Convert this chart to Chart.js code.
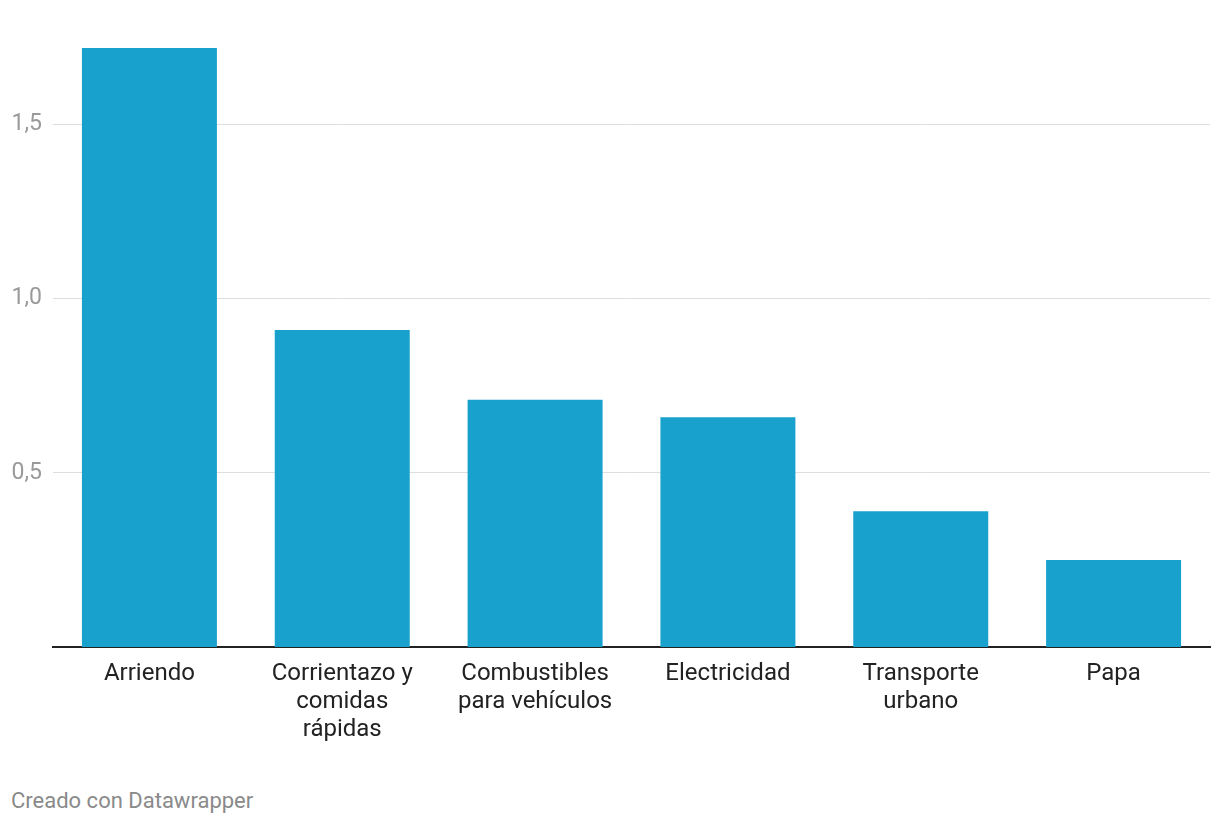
<!DOCTYPE html>
<html>
<head>
<meta charset="utf-8">
<script src="https://cdn.jsdelivr.net/npm/chart.js@4"></script>
<style>
  html, body { margin: 0; padding: 0; background: #fff; }
  #wrap { position: relative; width: 1220px; height: 824px; }
  #box { position: absolute; left: 0; top: 0; width: 1220px; height: 760px; }
  #footer {
    position: absolute; left: 11px; top: 788px;
    font-family: Roboto, sans-serif; font-size: 22px; color: #8a8a8a;
  }
</style>
</head>
<body>
<div id="wrap">
  <div id="box"><canvas id="chart"></canvas></div>
  <div id="footer">Creado con Datawrapper</div>
</div>
<script>
  // datos
  const categories = [
    ['Arriendo'],
    ['Corrientazo y', 'comidas', 'rápidas'],
    ['Combustibles', 'para vehículos'],
    ['Electricidad'],
    ['Transporte', 'urbano'],
    ['Papa']
  ];
  const values = [1.72, 0.91, 0.71, 0.66, 0.39, 0.25];
  const yTicks = [0.5, 1.0, 1.5];

  const ctx = document.getElementById('chart').getContext('2d');
  new Chart(ctx, {
    type: 'bar',
    data: {
      labels: categories,
      datasets: [{
        data: values,
        backgroundColor: '#18a1cd',
        barPercentage: 0.7,
        categoryPercentage: 1.0
      }]
    },
    options: {
      responsive: true,
      maintainAspectRatio: false,
      animation: false,
      layout: { padding: { top: 48, right: 10, left: 0, bottom: 0 } },
      plugins: { legend: { display: false }, tooltip: { enabled: false } },
      scales: {
        x: {
          grid: { display: false, drawTicks: false },
          border: { display: true, color: '#222', width: 2 },
          ticks: {
            autoSkip: false, maxRotation: 0, minRotation: 0,
            padding: 13,
            color: '#222',
            font: { family: 'Roboto', size: 24, lineHeight: 1.17 }
          },
          afterFit: s => { s.height = 113; }
        },
        y: {
          min: 0, max: 1.72,
          grid: { color: '#dedede', lineWidth: 1, drawTicks: false },
          border: { display: false },
          ticks: {
            padding: 11,
            color: '#9a9a9a',
            font: { family: 'Roboto', size: 23 },
            callback: v => v.toFixed(1).replace('.', ',')
          },
          afterBuildTicks: s => { s.ticks = yTicks.map(v => ({ value: v })); },
          afterFit: s => { s.width = 53; }
        }
      }
    }
  });
</script>
</body>
</html>
